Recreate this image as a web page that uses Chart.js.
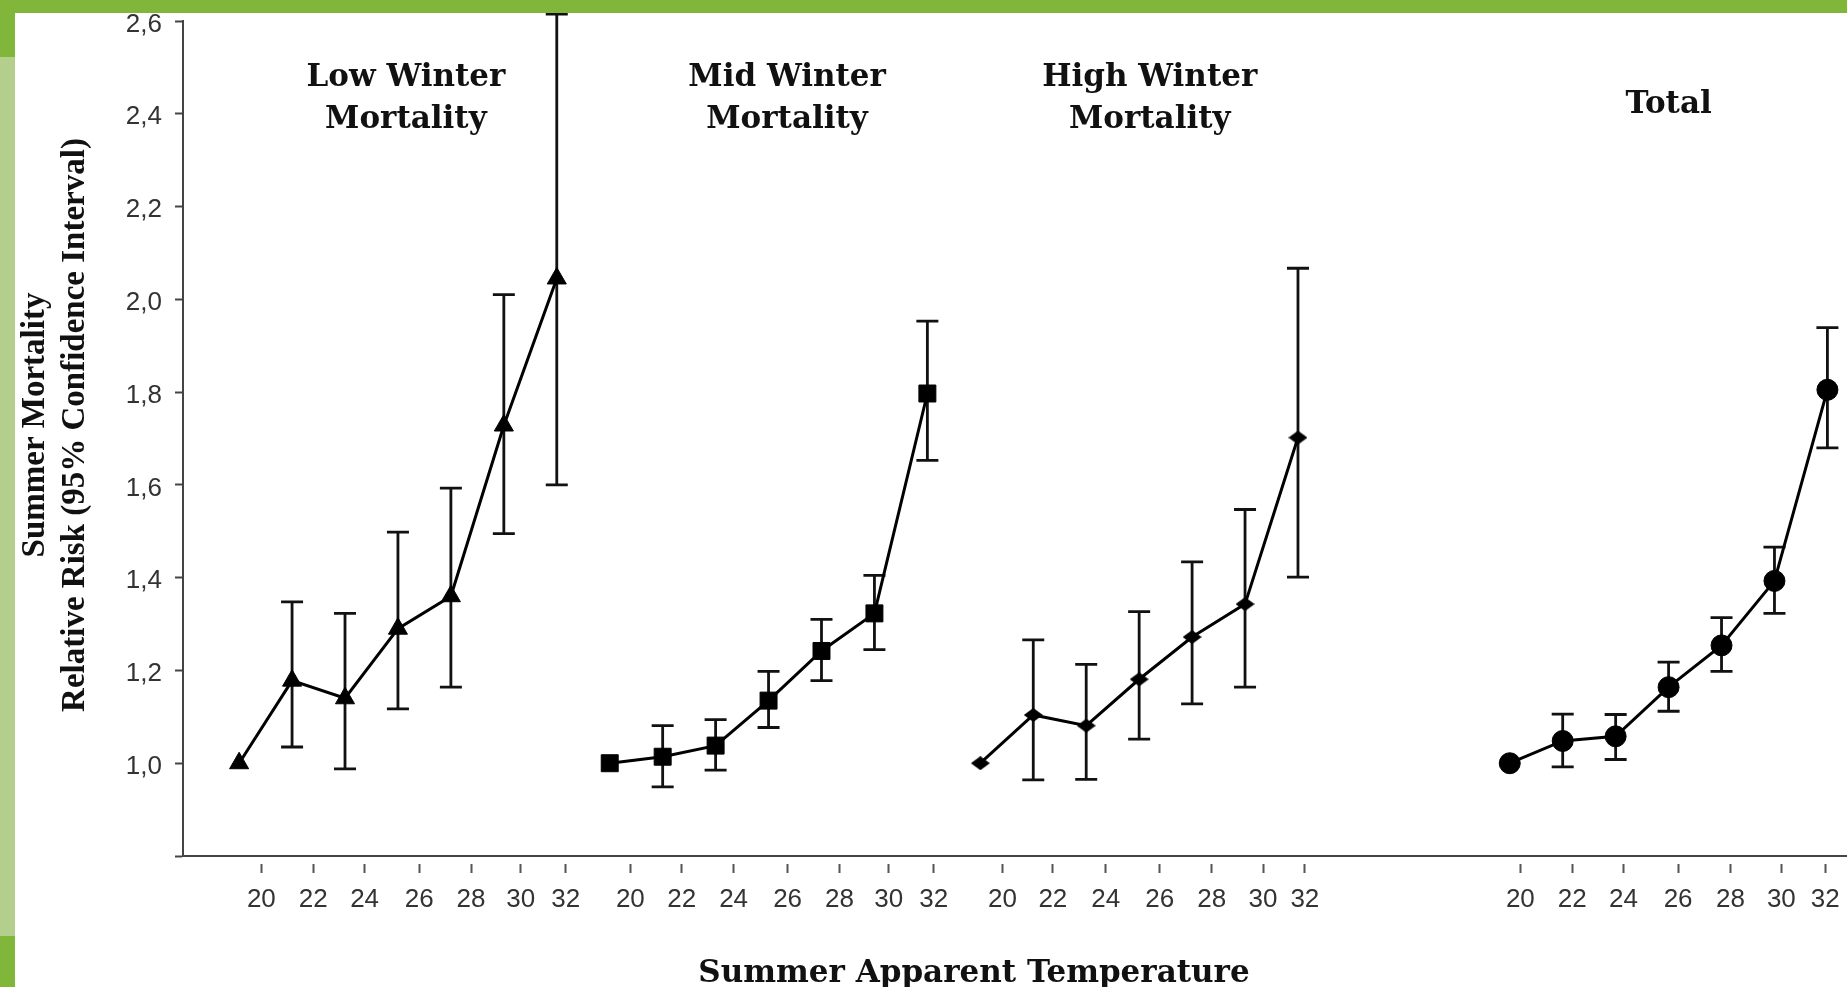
<!DOCTYPE html>
<html><head><meta charset="utf-8">
<script src="https://cdn.jsdelivr.net/npm/chart.js@4.4.0/dist/chart.umd.min.js"></script>
<style>html,body{margin:0;padding:0;background:#fff;overflow:hidden}canvas{display:block}</style>
</head><body>
<canvas id="c" width="1847" height="987"></canvas>
<script>
// ---- data ----
const groupNames = [['Low Winter','Mortality'],['Mid Winter','Mortality'],['High Winter','Mortality'],['Total']];
const groupStart = [0, 7, 14, 24];            // x-slot of the first category of each panel
const tempLabels = ['20','22','24','26','28','30','32'];
const lowRR  = [1.00, 1.178, 1.140, 1.290, 1.360, 1.728, 2.045];
const lowLo  = [null, 1.035, 0.988, 1.117, 1.164, 1.495, 1.600];
const lowHi  = [null, 1.348, 1.323, 1.498, 1.593, 2.010, 2.615];
const midRR  = [1.00, 1.014, 1.038, 1.135, 1.242, 1.323, 1.797];
const midLo  = [null, 0.949, 0.985, 1.077, 1.178, 1.245, 1.653];
const midHi  = [null, 1.081, 1.094, 1.198, 1.310, 1.405, 1.953];
const highRR = [1.00, 1.104, 1.081, 1.181, 1.272, 1.343, 1.702];
const highLo = [null, 0.964, 0.965, 1.052, 1.128, 1.164, 1.401];
const highHi = [null, 1.266, 1.213, 1.327, 1.434, 1.547, 2.067];
const totRR  = [1.00, 1.048, 1.058, 1.164, 1.254, 1.393, 1.805];
const totLo  = [null, 0.992, 1.008, 1.112, 1.198, 1.323, 1.680];
const totHi  = [null, 1.106, 1.105, 1.218, 1.314, 1.466, 1.939];
// x-axis tick values (in slot units) where the temperature labels sit
const xTickValues = [0.42,1.40,2.37,3.40,4.38,5.32,6.17, 7.39,8.36,9.34,10.36,11.34,12.27,13.12,
                     14.42,15.37,16.37,17.39,18.37,19.34,20.13, 24.20,25.18,26.15,27.18,28.17,29.13,29.96];
const yTickValues = [0.8,1.0,1.2,1.4,1.6,1.8,2.0,2.2,2.4,2.6];

// ---- styling / layout ----
const series = [
  {rr: lowRR,  lo: lowLo,  hi: lowHi,  style: 'triangle', r: 11},
  {rr: midRR,  lo: midLo,  hi: midHi,  style: 'rect',     r: 12},
  {rr: highRR, lo: highLo, hi: highHi, style: 'diamond',  r: 8},
  {rr: totRR,  lo: totLo,  hi: totHi,  style: 'circle',   r: 10.5}
];
const diamond = document.createElement('canvas');
diamond.width = 19; diamond.height = 14;
(function(){const d = diamond.getContext('2d'); d.fillStyle = '#000'; d.beginPath();
  d.moveTo(0,7); d.lineTo(9.5,0); d.lineTo(19,7); d.lineTo(9.5,14); d.closePath(); d.fill();})();

const datasets = series.map((s, g) => ({
  data: s.rr.map((v, i) => ({x: groupStart[g] + i, y: v})),
  borderColor: '#000', borderWidth: 3, tension: 0,
  pointStyle: s.style === 'diamond' ? diamond : s.style,
  pointRadius: s.r, pointHoverRadius: s.r,
  pointBackgroundColor: '#000', pointBorderColor: '#000', pointBorderWidth: 1,
  clip: false
}));

const errorBars = {
  id: 'errorBars',
  beforeDatasetsDraw(chart) {
    const ctx = chart.ctx, xs = chart.scales.x, ys = chart.scales.y;
    ctx.save();
    ctx.strokeStyle = '#111'; ctx.lineWidth = 2.8; ctx.lineCap = 'butt';
    series.forEach((s, g) => {
      s.rr.forEach((v, i) => {
        if (s.lo[i] == null) return;
        const x = xs.getPixelForValue(groupStart[g] + i);
        const y1 = ys.getPixelForValue(s.lo[i]), y2 = ys.getPixelForValue(s.hi[i]);
        const w = 11;
        ctx.beginPath();
        ctx.moveTo(x, y1); ctx.lineTo(x, y2);
        ctx.moveTo(x - w, y1); ctx.lineTo(x + w, y1);
        ctx.moveTo(x - w, y2); ctx.lineTo(x + w, y2);
        ctx.stroke();
      });
    });
    ctx.restore();
  }
};

const titleAnchors = [3.15, 3.35, 3.2, 3.0];
const decor = {
  id: 'decor',
  beforeDraw(chart) {
    const ctx = chart.ctx;
    ctx.save(); ctx.fillStyle = '#fff'; ctx.fillRect(0, 0, chart.width, chart.height); ctx.restore();
  },
  afterDraw(chart) {
    const ctx = chart.ctx, xs = chart.scales.x;
    ctx.save();
    // frame
    ctx.fillStyle = '#80b63a'; ctx.fillRect(0, 0, chart.width, 13);
    ctx.fillStyle = '#b4cf8c'; ctx.fillRect(0, 13, 15, chart.height - 13);
    ctx.fillStyle = '#80b63a'; ctx.fillRect(0, 0, 15, 57); ctx.fillRect(0, 936, 15, chart.height - 936);
    // panel titles
    ctx.fillStyle = '#111';
    ctx.font = 'bold 31px "DejaVu Serif"';
    ctx.textAlign = 'center'; ctx.textBaseline = 'alphabetic';
    groupNames.forEach((lines, g) => {
      const x = xs.getPixelForValue(groupStart[g] + titleAnchors[g]);
      if (lines.length === 1) ctx.fillText(lines[0], x, 113);
      else { ctx.fillText(lines[0], x, 86); ctx.fillText(lines[1], x, 128); }
    });
    // x-axis title
    ctx.font = 'bold 31px "DejaVu Serif"';
    ctx.fillText('Summer Apparent Temperature', 974, 982);
    // y-axis title
    ctx.font = 'bold 33px "Liberation Serif"';
    ctx.textBaseline = 'middle';
    ctx.translate(0, 425); ctx.rotate(-Math.PI / 2);
    ctx.fillText('Summer Mortality', 0, 35);
    ctx.fillText('Relative Risk (95% Confidence Interval)', 0, 75);
    ctx.restore();
  }
};

new Chart(document.getElementById('c'), {
  type: 'line',
  data: {datasets},
  plugins: [errorBars, decor],
  options: {
    responsive: false, animation: false, devicePixelRatio: 1,
    layout: {autoPadding: false, padding: {top: 21, left: 0, right: 0, bottom: 0}},
    plugins: {legend: {display: false}, tooltip: {enabled: false}},
    scales: {
      x: {
        type: 'linear', min: -1.06, max: 30.37,
        afterBuildTicks: s => { s.ticks = xTickValues.map(v => ({value: v})); },
        afterFit: s => { s.height = 131; s.paddingLeft = 0; s.paddingRight = 0; },
        border: {display: true, color: '#444', width: 2},
        grid: {drawOnChartArea: false, drawTicks: true, tickLength: 17, tickColor: '#555', tickWidth: 2,
               tickBorderDash: [0, 7, 10, 60]},
        ticks: {autoSkip: false, maxRotation: 0, minRotation: 0, padding: 11, color: '#333',
                font: {family: '"Liberation Sans", Arial, sans-serif', size: 26},
                callback: (v, i) => tempLabels[i % tempLabels.length]}
      },
      y: {
        type: 'linear', min: 0.8, max: 2.6,
        afterBuildTicks: s => { s.ticks = yTickValues.map(v => ({value: v})); },
        afterFit: s => { s.width = 183; s.paddingTop = 0; s.paddingBottom = 0; },
        border: {display: true, color: '#444', width: 2},
        grid: {drawOnChartArea: false, drawTicks: true, tickLength: 8, tickColor: '#444', tickWidth: 2},
        ticks: {padding: 13, color: '#333',
                font: {family: '"Liberation Sans", Arial, sans-serif', size: 26, lineHeight: 0.27},
                // empty first line nudges each label ~3px below its tick, as in the source figure
                callback: v => v < 0.9 ? '' : ['', v.toFixed(1).replace('.', ',')]}
      }
    }
  }
});
</script>
</body></html>
